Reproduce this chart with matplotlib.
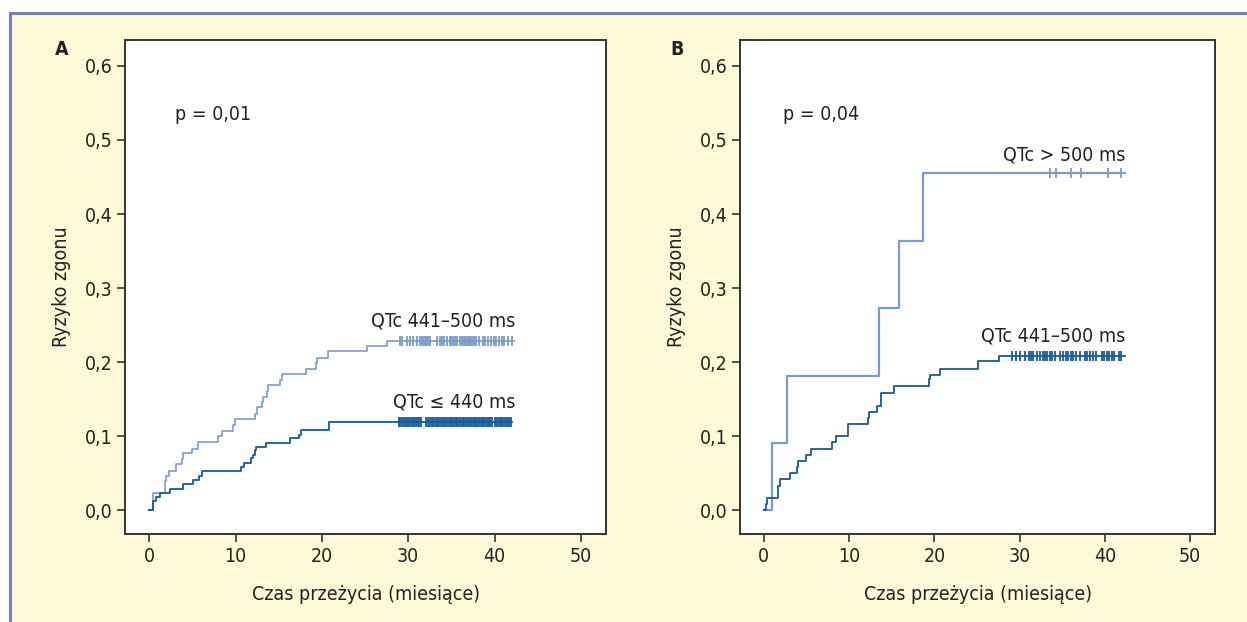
import matplotlib.pyplot as plt
from matplotlib.patches import Rectangle

plt.rcParams['font.family'] = ['DejaVu Sans']
plt.rcParams['font.stretch'] = 'condensed'

# ---- data ----
# Panel A
a_low_t = [0, 0.42, 0.77, 1.27, 2.39, 3.86, 5.05, 5.75, 6.1, 10.69, 10.96, 11.8, 12.0,
           12.27, 12.35, 13.54, 16.3, 17.36, 17.59, 20.83, 42.0]
a_low_r = [0, 0.012, 0.018, 0.023, 0.029, 0.035, 0.041, 0.046, 0.053, 0.059, 0.064, 0.070,
           0.075, 0.081, 0.086, 0.091, 0.097, 0.102, 0.108, 0.119, 0.119]
a_low_cens = [28.9, 29.1, 29.3, 29.5, 29.7, 29.9, 30.1, 30.3, 30.5, 30.7, 30.9, 31.1, 31.3, 31.5,
              32.1, 32.3, 32.5, 32.7, 32.9, 33.1, 33.3, 33.5, 33.7, 33.9, 34.1, 34.3, 34.5, 34.7,
              34.9, 35.1, 35.3, 35.5, 35.7, 35.9, 36.1, 36.3, 36.5, 36.7, 36.9, 37.1, 37.3, 37.5,
              37.7, 37.9, 38.1, 38.3, 38.5, 38.7, 38.9, 39.1, 39.3, 39.5, 39.7, 40.1, 40.3, 40.5,
              40.7, 40.9, 41.1, 41.3, 41.5, 41.7, 41.9]

a_mid_t = [0, 0.5, 1.85, 2.0, 2.24, 3.09, 3.78, 3.95, 4.94, 5.63, 7.95, 8.41, 9.76, 9.95,
           12.2, 12.46, 13.04, 13.23, 13.6, 13.73, 15.16, 15.43, 18.13, 19.3, 19.4, 20.75,
           25.2, 27.5, 42.2]
a_mid_r = [0, 0.023, 0.039, 0.046, 0.053, 0.062, 0.069, 0.077, 0.083, 0.092, 0.100, 0.107,
           0.115, 0.123, 0.130, 0.139, 0.146, 0.153, 0.161, 0.169, 0.176, 0.184, 0.191, 0.199,
           0.206, 0.215, 0.222, 0.229, 0.229]
a_mid_cens = [29.05, 29.3, 29.8, 30.2, 30.6, 31.0, 31.4, 31.6, 31.8, 32.0, 32.1, 32.3, 32.5,
              33.3, 33.7, 33.9, 34.1, 34.45, 34.8, 35.0, 35.2, 35.4, 35.7, 36.0, 36.2, 36.4,
              36.6, 36.8, 37.0, 37.2, 37.4, 37.6, 37.9, 38.2, 38.6, 38.9, 39.2, 39.6, 39.9,
              40.2, 40.5, 40.8, 41.1, 41.5, 42.0]

# Panel B
b_mid_t = [0, 0.27, 0.42, 1.71, 1.91, 3.08, 3.87, 3.98, 4.96, 5.55, 7.97, 8.48, 9.85, 12.19,
           12.38, 13.25, 13.72, 15.2, 19.34, 19.5, 20.67, 25.16, 27.6, 42.4]
b_mid_r = [0, 0.008, 0.017, 0.033, 0.042, 0.051, 0.058, 0.066, 0.075, 0.083, 0.092, 0.100,
           0.116, 0.125, 0.133, 0.141, 0.159, 0.168, 0.177, 0.183, 0.191, 0.202, 0.209, 0.209]
b_mid_cens = [29.07, 29.6, 30.05, 30.6, 31.1, 31.35, 31.6, 32.0, 32.4, 32.7, 33.0, 33.2, 33.5,
              33.8, 34.1, 34.7, 35.1, 35.4, 35.7, 36.0, 36.3, 36.6, 37.1, 37.7, 37.9, 38.2,
              38.6, 39.0, 39.6, 39.9, 40.2, 40.5, 40.8, 41.0, 41.6, 41.9]

b_high_t = [0, 0.93, 2.69, 13.55, 15.9, 18.63, 42.4]
b_high_r = [0, 0.091, 0.182, 0.273, 0.364, 0.455, 0.455]
b_high_cens = [33.6, 34.2, 36.0, 37.2, 40.4, 41.9]

x_ticks = [0, 10, 20, 30, 40, 50]
y_ticks = [0.0, 0.1, 0.2, 0.3, 0.4, 0.5, 0.6]
y_labels = ['0,0', '0,1', '0,2', '0,3', '0,4', '0,5', '0,6']

LIGHT = '#7b9bcc'
DARK = '#155a9c'
BG = '#fff9d8'
EDGE = '#333333'
TXT = '#222222'
FS = 14

fig = plt.figure(figsize=(12.47, 6.22), dpi=100)
fig.patch.set_facecolor('white')
bg_box = Rectangle((10 / 1247, -0.1), 1.1, 1.1 - 13 / 622,
                   transform=fig.transFigure, facecolor=BG,
                   edgecolor='#7384b4', linewidth=2.2, zorder=-10)
fig.add_artist(bg_box)

ax_a = fig.add_axes([125 / 1247, 88 / 622, 481 / 1247, 494 / 622])
ax_b = fig.add_axes([740 / 1247, 88 / 622, 475 / 1247, 494 / 622])


def km_line(ax, t, r, cens, color, lw):
    ax.step(t, r, where='post', color=color, linewidth=lw, zorder=3)
    # censoring marks at the plateau level
    level = [r[-1]] * len(cens)
    ax.plot(cens, level, linestyle='none', marker='|', markersize=7,
            markeredgewidth=1.3, color=color, zorder=4)


km_line(ax_a, a_mid_t, a_mid_r, a_mid_cens, LIGHT, 1.2)
km_line(ax_a, a_low_t, a_low_r, a_low_cens, DARK, 1.3)
km_line(ax_b, b_high_t, b_high_r, b_high_cens, LIGHT, 1.6)
km_line(ax_b, b_mid_t, b_mid_r, b_mid_cens, DARK, 1.3)

for ax, letter in [(ax_a, 'A'), (ax_b, 'B')]:
    ax.set_facecolor('white')
    ax.set_xlim(-2.8, 52.9)
    ax.set_ylim(-0.032, 0.635)
    ax.set_xticks(x_ticks)
    ax.set_yticks(y_ticks)
    ax.set_yticklabels(y_labels)
    ax.tick_params(direction='out', length=6, width=1.2, color=EDGE,
                   labelsize=FS, labelcolor=TXT, pad=3)
    for s in ax.spines.values():
        s.set_color(EDGE)
        s.set_linewidth(1.4)
    ax.set_xlabel('Czas przeżycia (miesiące)', fontsize=FS, color=TXT, labelpad=14)
    ax.set_ylabel('Ryzyko zgonu', fontsize=FS, color=TXT, labelpad=10)
    ax.text(-0.146, 0.98, letter, transform=ax.transAxes, fontsize=FS,
            fontweight='bold', ha='left', va='center', color=TXT)

ax_a.text(3.0, 0.534, 'p = 0,01', fontsize=FS, ha='left', va='center', color=TXT)
ax_a.text(42.4, 0.256, 'QTc 441–500 ms', fontsize=FS, ha='right', va='center', color=TXT)
ax_a.text(42.4, 0.146, 'QTc ≤ 440 ms', fontsize=FS, ha='right', va='center', color=TXT)

ax_b.text(2.3, 0.534, 'p = 0,04', fontsize=FS, ha='left', va='center', color=TXT)
ax_b.text(42.4, 0.48, 'QTc > 500 ms', fontsize=FS, ha='right', va='center', color=TXT)
ax_b.text(42.4, 0.236, 'QTc 441–500 ms', fontsize=FS, ha='right', va='center', color=TXT)

plt.savefig('out.png', dpi=100, facecolor=fig.get_facecolor())
